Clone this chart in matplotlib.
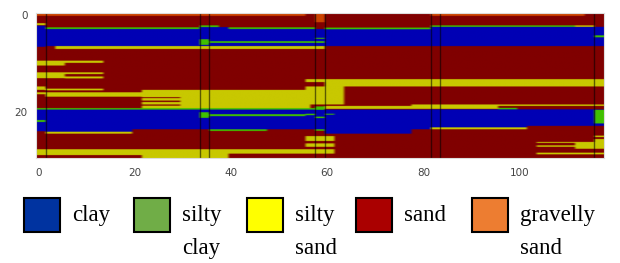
import numpy as np
import matplotlib
matplotlib.use("Agg")
import matplotlib.pyplot as plt
from matplotlib.colors import ListedColormap
import matplotlib.patches as mpatches

# soil classes (index = value in grid)
SOILS = ["clay", "silty\nclay", "silty\nsand", "sand", "gravelly\nsand"]
GRID_COLORS = ["#0000b4", "#40c000", "#c8c800", "#800000", "#cc4400"]
LEGEND_COLORS = ["#0033a0", "#70ad47", "#ffff00", "#aa0000", "#ed7d31"]

N_COLS = 118
N_ROWS = 30
BOREHOLE_EDGES = [1.5, 33.5, 35.5, 57.5, 59.5, 81.5, 83.5, 115.5]

# layers: (col_from, col_to, top, bottom), background is sand
CLAY = [
    (0, 2, 2.8, 7.15), (2, 34, 3.5, 7.0), (34, 40, 3.1, 7.0), (40, 58, 3.5, 7.0),
    (58, 60, 3.5, 7.0), (60, 82, 3.55, 7.0), (82, 118, 3.05, 7.0),
    (0, 2, 19.9, 24.5), (2, 20, 20.05, 24.6), (20, 34, 20.05, 24.1),
    (34, 48, 20.05, 24.1), (48, 60, 20.05, 24.1), (60, 78, 20.05, 25.0),
    (78, 82, 20.05, 24.1), (82, 102, 20.0, 23.7), (102, 118, 20.0, 23.4),
]
SILTY_CLAY = [
    (2, 34, 3.15, 3.5), (34, 38, 2.75, 3.1), (40, 58, 3.15, 3.5), (60, 82, 3.2, 3.55),
    (82, 112, 2.75, 3.05), (116, 118, 4.8, 5.2), (34, 36, 5.6, 6.75), (36, 60, 6.0, 6.35),
    (58, 60, 5.3, 5.5),
    (0, 58, 19.75, 20.05), (96, 100, 19.7, 20.0), (58, 60, 19.4, 20.1),
    (0, 2, 22.2, 22.6), (34, 36, 20.6, 21.75), (36, 56, 21.0, 21.4), (56, 58, 20.9, 21.2),
    (58, 60, 21.5, 21.8), (60, 62, 20.9, 21.1), (36, 48, 24.1, 24.45), (58, 60, 24.1, 24.4),
    (116, 118, 20.1, 22.9),
]
SILTY_SAND = [
    (0, 2, 2.3, 2.7), (112, 116, 2.75, 3.05), (4, 60, 7.0, 7.6),
    (0, 6, 10.0, 11.0), (6, 14, 10.0, 10.45),
    (0, 6, 12.4, 13.6), (6, 14, 12.4, 12.75), (6, 14, 13.25, 13.65),
    (0, 2, 15.3, 16.0), (2, 14, 15.75, 16.1), (0, 2, 16.5, 16.9),
    (2, 22, 16.5, 17.4), (22, 30, 16.0, 17.5), (22, 30, 17.7, 18.2), (22, 30, 18.5, 19.0),
    (22, 30, 19.25, 19.75), (30, 57, 16.0, 19.75),
    (56, 60, 13.8, 14.4), (60, 118, 13.8, 15.3), (56, 64, 15.3, 19.0),
    (60, 96, 19.3, 19.9), (78, 118, 19.0, 19.3),
    (2, 20, 24.6, 25.0), (82, 102, 23.7, 24.1), (60, 64, 20.6, 20.85),
    (56, 62, 25.5, 26.5), (56, 62, 27.0, 27.7),
    (0, 22, 28.2, 29.4), (22, 40, 28.2, 30.0), (40, 62, 28.2, 29.1),
    (104, 112, 26.7, 26.9), (104, 112, 27.4, 27.7), (112, 116, 26.7, 28.1),
    (116, 118, 25.4, 25.7), (116, 118, 26.1, 28.1), (104, 118, 28.9, 29.25),
]
GRAVELLY_SAND = [(0, 56, 0.0, 0.8), (58, 60, 0.0, 2.1), (82, 114, 0.0, 0.8)]

SUB = 20  # sub-rows per row
grid = np.full((N_ROWS * SUB, N_COLS), 3)
for value, patches in [(2, SILTY_SAND), (0, CLAY), (1, SILTY_CLAY), (4, GRAVELLY_SAND)]:
    for c0, c1, r0, r1 in patches:
        grid[int(round(r0 * SUB)):int(round(r1 * SUB)), c0:c1] = value

fig = plt.figure(figsize=(6.2, 2.63), dpi=100)
ax = fig.add_axes([36 / 620, 1 - 158 / 263, 568 / 620, 145.3 / 263])
ax.imshow(grid, cmap=ListedColormap(GRID_COLORS), vmin=-0.5, vmax=4.5,
          aspect="auto", interpolation="antialiased",
          extent=(-0.5, N_COLS - 0.5, N_ROWS - 0.5, -0.5))
for x in BOREHOLE_EDGES:
    ax.axvline(x, color="black", lw=1, alpha=0.55)

ax.set_xticks([0, 20, 40, 60, 80, 100])
ax.set_yticks([0, 20])
ax.tick_params(length=0, labelsize=7.5, labelcolor="#444444")
ax.tick_params(axis="x", pad=7)
ax.tick_params(axis="y", pad=6)
for s in ax.spines.values():
    s.set_color("#dddddd")
    s.set_linewidth(0.8)

# legend row drawn below the section
sq_x = [24, 134, 247, 356, 472]
for i, name in enumerate(SOILS):
    x0 = sq_x[i] / 620
    fig.patches.append(mpatches.Rectangle((x0, 1 - 232 / 263), 36 / 620, 34 / 263,
                                          transform=fig.transFigure,
                                          facecolor=LEGEND_COLORS[i], edgecolor="black",
                                          lw=1.5))
    fig.text(x0 + 48 / 620, 1 - 205 / 263, name, family="Liberation Serif",
             fontsize=16.5, va="top", ha="left", linespacing=1.75)

fig.savefig("out.png", dpi=100)
